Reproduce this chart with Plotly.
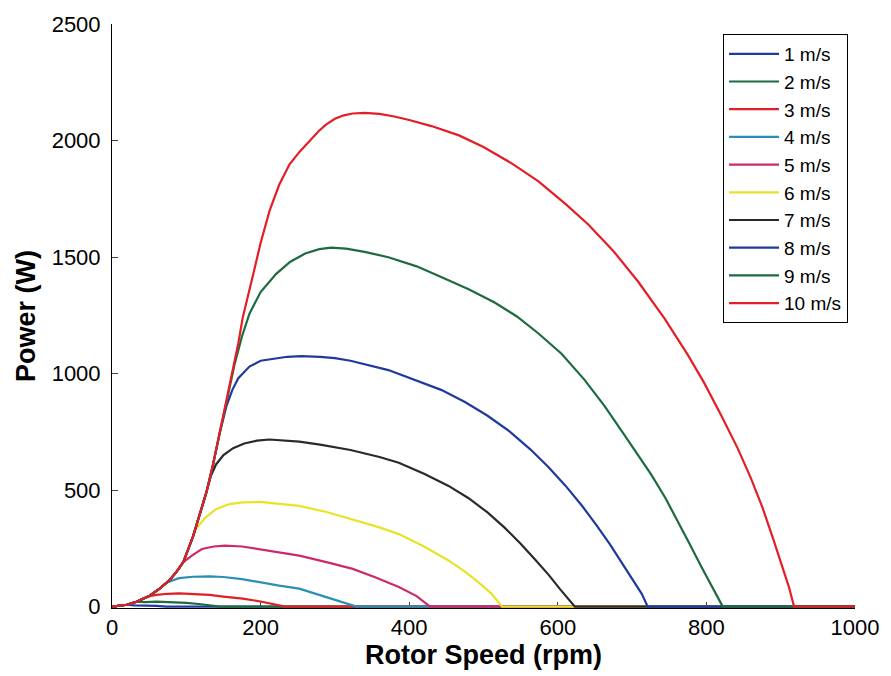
import plotly.graph_objects as go

# Shared rising envelope (rpm, W)
rise_rpm = [0, 20, 33, 50, 64, 78, 87, 96, 109, 118, 127, 136, 145, 154, 162, 170, 176, 183, 189, 200, 212, 225, 239]
rise_power = [0, 8, 21, 45, 77, 115, 150, 191, 300, 390, 490, 610, 746, 875, 1002, 1130, 1241, 1330, 1412, 1560, 1698, 1810, 1898]

labels = ["1 m/s", "2 m/s", "3 m/s", "4 m/s", "5 m/s", "6 m/s", "7 m/s", "8 m/s", "9 m/s", "10 m/s"]
colors = ["#1f3a9e", "#1d6b3e", "#e21e26", "#2a8fb5", "#cc2a6a", "#e8e22a", "#2a2a2a", "#1f3a9e", "#1d6b3e", "#e21e26"]

# Tail of each curve after it leaves the envelope (rpm, W); ends flat at 0 up to 1000 rpm
tail_rpm = [
    [30, 45, 60, 73, 1000],
    [45, 60, 80, 100, 120, 135, 145, 1000],
    [60, 75, 91, 110, 131, 150, 176, 200, 221, 233, 1000],
    [75, 90, 109, 131, 150, 175, 197, 225, 252, 266, 290, 310, 329, 1000],
    [108, 121, 137, 152, 175, 197, 225, 252, 290, 324, 355, 386, 410, 428, 1000],
    [113, 125, 140, 158, 176, 199, 225, 252, 290, 324, 360, 386, 420, 453, 475, 493, 510, 525, 1000],
    [133, 140, 150, 163, 178, 195, 212, 236, 252, 280, 321, 360, 386, 420, 453, 480, 505, 528, 550, 570, 588, 603, 614, 623, 1000],
    [154, 162, 170, 185, 200, 220, 236, 255, 280, 300, 321, 372, 408, 443, 475, 505, 535, 563, 587, 610, 632, 652, 670, 687, 702, 713, 721, 1000],
    [158, 165, 175, 185, 200, 221, 240, 260, 279, 295, 315, 340, 372, 410, 443, 480, 515, 545, 574, 605, 636, 663, 690, 708, 726, 745, 761, 778, 793, 805, 814, 822, 1000],
    [252, 265, 278, 288, 300, 312, 324, 340, 360, 380, 400, 430, 467, 500, 539, 574, 611, 641, 675, 708, 744, 775, 797, 820, 842, 860, 876, 890, 902, 911, 918, 1000],
]
tail_power = [
    [5, 5, 3, 0, 0],
    [19, 21, 20, 16, 10, 5, 0, 0],
    [50, 55, 57, 55, 50, 43, 34, 22, 8, 0, 0],
    [105, 122, 128, 130, 127, 118, 105, 90, 77, 63, 42, 22, 0, 0],
    [220, 247, 258, 262, 258, 247, 232, 219, 190, 162, 125, 84, 45, 0, 0],
    [333, 380, 418, 440, 447, 449, 440, 432, 405, 375, 340, 311, 258, 198, 150, 105, 58, 0, 0],
    [560, 610, 650, 680, 700, 712, 717, 712, 708, 695, 672, 642, 617, 570, 518, 465, 405, 340, 270, 200, 135, 75, 35, 0, 0],
    [860, 930, 980, 1030, 1055, 1066, 1072, 1075, 1072, 1066, 1055, 1015, 973, 930, 878, 820, 752, 675, 600, 520, 435, 350, 268, 185, 110, 55, 0, 0],
    [930, 1040, 1160, 1257, 1350, 1428, 1480, 1515, 1534, 1540, 1536, 1522, 1499, 1460, 1414, 1362, 1305, 1245, 1172, 1085, 973, 860, 735, 650, 565, 465, 370, 265, 172, 100, 50, 0, 0],
    [1950, 1997, 2040, 2068, 2093, 2108, 2116, 2119, 2114, 2103, 2088, 2062, 2022, 1972, 1900, 1825, 1726, 1640, 1525, 1395, 1235, 1080, 960, 820, 680, 550, 420, 290, 170, 85, 0, 0],
]

x_ticks = [0, 200, 400, 600, 800, 1000]
y_ticks = [0, 500, 1000, 1500, 2000, 2500]

fig = go.Figure()
for lab, col, tr, tp in zip(labels, colors, tail_rpm, tail_power):
    xs = [r for r in rise_rpm if r < tr[0]]
    ys = rise_power[:len(xs)]
    fig.add_trace(go.Scatter(x=xs + tr, y=ys + tp, mode="lines", name=lab,
                             line=dict(color=col, width=2.2)))

FONT = "Liberation Sans, Arial, sans-serif"
fig.update_layout(
    width=891, height=676,
    margin=dict(l=112, r=33, t=22, b=68),
    paper_bgcolor="white", plot_bgcolor="white",
    font=dict(family=FONT, color="black"),
    legend=dict(x=0.9906, y=0.983, xanchor="right", yanchor="top",
                bordercolor="black", borderwidth=1, bgcolor="white",
                font=dict(size=19, family=FONT, color="black"),
                itemwidth=50, tracegroupgap=0),
    showlegend=True,
)
fig.update_xaxes(range=[0, 1000], tickvals=x_ticks, ticks="inside", ticklen=6,
                 showline=True, linecolor="black", linewidth=1, showgrid=False,
                 zeroline=False, layer="below traces",
                 tickfont=dict(size=22, family=FONT, color="black"),
                 title=dict(text="Rotor Speed (rpm)", standoff=4,
                            font=dict(size=27, family=FONT, color="black", weight="bold")))
fig.update_yaxes(range=[-6, 2500], tickvals=y_ticks, ticks="inside", ticklen=6,
                 showline=True, linecolor="black", linewidth=1, showgrid=False,
                 zeroline=False, layer="below traces", ticklabelstandoff=6,
                 tickfont=dict(size=22, family=FONT, color="black"),
                 title=dict(text="Power (W)", standoff=8,
                            font=dict(size=27, family=FONT, color="black", weight="bold")))

fig.write_html("out.html")
